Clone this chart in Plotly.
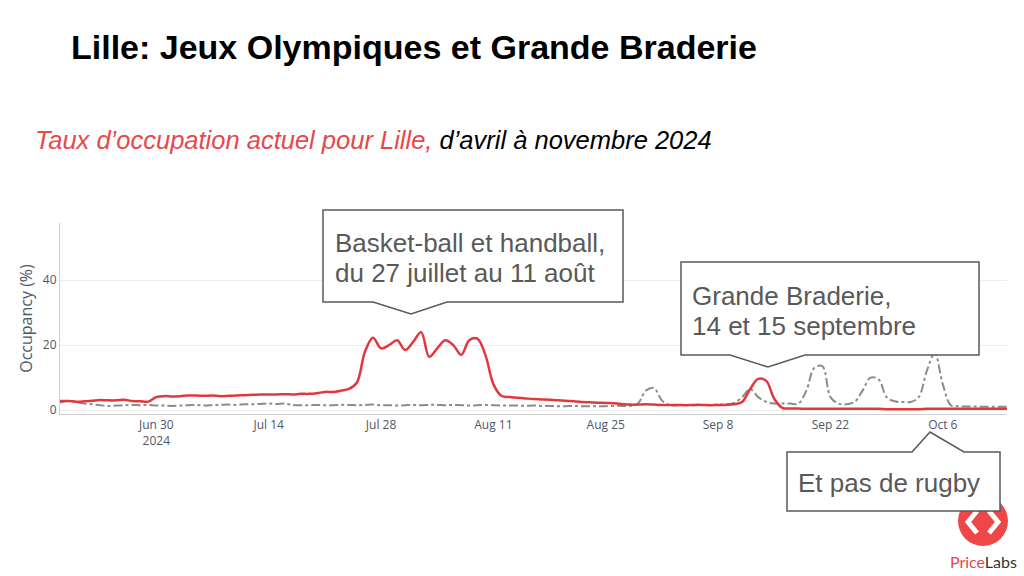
import pandas as pd
import plotly.graph_objects as go

# ---------------- data ----------------
dates = pd.date_range("2024-06-18", "2024-10-14", freq="D").strftime("%Y-%m-%d").tolist()

lille_2024 = [
    # Jun 18 - Jun 30
    2.8, 2.8, 2.6, 2.7, 2.9, 3.1, 3.0, 3.0, 3.2, 2.8, 2.7, 2.6, 4.0,
    # Jul 1 - Jul 23
    4.3, 4.2, 4.3, 4.5, 4.5, 4.4, 4.5, 4.3, 4.4, 4.5, 4.6, 4.7, 4.8, 4.8,
    4.8, 4.9, 4.8, 5.0, 5.0, 5.2, 5.6, 5.6, 6.0,
    # Jul 24 - Aug 13
    6.5, 8.5, 18.0, 22.3, 19.0, 20.0, 21.5, 18.5, 21.0, 24.0, 16.4, 19.0,
    21.5, 20.0, 17.0, 21.5, 22.0, 17.0, 8.0, 4.4, 4.0,
    # Aug 14 - Sep 10
    3.8, 3.6, 3.4, 3.3, 3.2, 3.0, 2.9, 2.7, 2.5, 2.4, 2.3, 2.2, 2.1, 1.9,
    1.7, 1.7, 1.8, 1.7, 1.6, 1.6, 1.6, 1.5, 1.6, 1.6, 1.5, 1.6, 1.6, 1.8,
    # Sep 11 - Sep 16
    2.5, 6.5, 9.6, 9.0, 3.5, 0.7,
    # Sep 17 - Oct 14
    0.5, 0.5, 0.4, 0.4, 0.4, 0.4, 0.4, 0.4, 0.4, 0.4, 0.4, 0.4, 0.3, 0.3,
    0.3, 0.3, 0.3, 0.4, 0.4, 0.4, 0.4, 0.4, 0.4, 0.4, 0.4, 0.4, 0.4, 0.4,
]

reference = [
    # Jun 18 - Jun 30
    2.3, 2.8, 2.5, 2.0, 1.8, 1.5, 1.3, 1.4, 1.5, 1.6, 1.5, 1.6, 1.4,
    # Jul 1 - Jul 23
    1.4, 1.3, 1.4, 1.5, 1.6, 1.4, 1.5, 1.6, 1.7, 1.6, 1.8, 1.8, 1.9, 2.0,
    1.9, 2.0, 1.6, 1.5, 1.5, 1.6, 1.5, 1.5, 1.6,
    # Jul 24 - Aug 13
    1.6, 1.5, 1.6, 1.7, 1.5, 1.5, 1.4, 1.5, 1.6, 1.5, 1.6, 1.6, 1.5, 1.6,
    1.5, 1.4, 1.5, 1.6, 1.5, 1.4, 1.4,
    # Aug 14 - Sep 10
    1.4, 1.3, 1.4, 1.3, 1.3, 1.2, 1.2, 1.3, 1.2, 1.2, 1.2, 1.2, 1.3, 1.3,
    1.3, 2.0, 6.0, 6.8, 3.0, 1.5, 1.5, 1.6, 1.5, 1.6, 1.6, 1.7, 1.8, 2.2,
    # Sep 11 - Sep 16
    4.0, 6.5, 4.0, 2.5, 2.0, 2.0,
    # Sep 17 - Oct 14
    2.0, 2.0, 6.0, 13.0, 13.5, 4.0, 2.0, 1.8, 2.5, 6.0, 10.0, 9.5, 4.0, 2.7,
    2.5, 2.5, 4.0, 12.0, 17.5, 8.0, 1.5, 1.2, 1.1, 1.1, 1.0, 1.0, 1.0, 1.0,
]

y_ticks = [0, 20, 40]

title_text = "Lille: Jeux Olympiques et Grande Braderie"
subtitle_red = "Taux d’occupation actuel pour Lille,"
subtitle_black = " d’avril à novembre 2024"
callout_olympics = ["Basket-ball et handball,", "du 27 juillet au 11 août"]
callout_braderie = ["Grande Braderie,", "14 et 15 septembre"]
callout_rugby = "Et pas de rugby"

# ---------------- layout helpers (pixel -> paper) ----------------
L, R, T, B = 60, 1007, 223, 414
W, H = R - L, B - T


def px(x):
    return (x - L) / W


def py(y):
    return (B - y) / H


def path(points):
    s = "M " + " L ".join(f"{px(x):.5f},{py(y):.5f}" for x, y in points)
    return s + " Z"


def open_path(points):
    return "M " + " L ".join(f"{px(x):.5f},{py(y):.5f}" for x, y in points)


RED = "#E2383D"
GREY_TXT = "#595959"
AXIS_TXT = "#4f5666"

fig = go.Figure()
fig.add_trace(go.Scatter(
    x=dates, y=reference, mode="lines",
    line=dict(color="#8c8c8c", width=2, dash="dashdot", shape="spline", smoothing=1.0),
    showlegend=False, hoverinfo="skip",
))
fig.add_trace(go.Scatter(
    x=dates, y=lille_2024, mode="lines",
    line=dict(color=RED, width=2.5, shape="spline", smoothing=1.0),
    showlegend=False,
))

fig.update_layout(
    width=1024, height=576,
    margin=dict(l=L, r=1024 - R, t=T, b=576 - B),
    paper_bgcolor="white", plot_bgcolor="white",
    font=dict(family="Open Sans", color=AXIS_TXT, size=12),
    xaxis=dict(
        range=["2024-06-18", "2024-10-14"],
        tick0="2024-06-30", dtick=14 * 86400000,
        showgrid=False, showline=True, linecolor="#cfcfcf", linewidth=1,
        zeroline=False, ticks="", tickfont=dict(size=12, color=AXIS_TXT),
    ),
    yaxis=dict(
        range=[-1.2, 57.6], tickvals=y_ticks,
        showgrid=True, gridcolor="#ececec", showline=True, linecolor="#cfcfcf",
        zeroline=False, ticks="", tickfont=dict(size=12, color=AXIS_TXT),
        title=dict(text="Occupancy (%)", font=dict(size=16, color=AXIS_TXT), standoff=6),
    ),
)

shapes = []
# logo circle (under callout box)
shapes.append(dict(type="circle", xref="paper", yref="paper",
                   x0=px(958), x1=px(1008), y0=py(546), y1=py(496),
                   fillcolor="#EF4747", line=dict(width=0), layer="above"))
shapes.append(dict(type="path", xref="paper", yref="paper",
                   path=open_path([(977, 511), (968, 522), (977, 533)]),
                   line=dict(color="white", width=5), layer="above"))
shapes.append(dict(type="path", xref="paper", yref="paper",
                   path=open_path([(989, 511), (998, 522), (989, 533)]),
                   line=dict(color="white", width=5), layer="above"))

callout_style = dict(type="path", xref="paper", yref="paper",
                     fillcolor="white", line=dict(color=GREY_TXT, width=1.5), layer="above")
shapes.append(dict(callout_style, path=path([(323, 210), (623, 210), (623, 302), (447, 302),
                                            (411, 314), (373, 302), (323, 302)])))
shapes.append(dict(callout_style, path=path([(681, 262), (979, 262), (979, 355), (805, 355),
                                            (768, 367), (730, 355), (681, 355)])))
shapes.append(dict(callout_style, path=path([(787, 452), (912, 452), (930, 432), (964, 452),
                                            (1000, 452), (1000, 511), (787, 511)])))
fig.update_layout(shapes=shapes)

ann_font = dict(family="Liberation Sans, Arial", size=26, color=GREY_TXT)
annotations = [
    dict(text=f"<b>{title_text}</b>", x=px(69), y=py(47), xanchor="left", yanchor="middle",
         font=dict(family="Liberation Sans, Arial", size=34, color="black")),
    dict(text=f"<i><span style='color:#E8474C'>{subtitle_red}</span>{subtitle_black}</i>",
         x=px(33), y=py(140), xanchor="left", yanchor="middle",
         font=dict(family="Liberation Sans, Arial", size=25.5, color="black")),
    dict(text=callout_olympics[0], x=px(333), y=py(243), xanchor="left", yanchor="middle", font=ann_font),
    dict(text=callout_olympics[1], x=px(333), y=py(273), xanchor="left", yanchor="middle", font=ann_font),
    dict(text=callout_braderie[0], x=px(690), y=py(296), xanchor="left", yanchor="middle", font=ann_font),
    dict(text=callout_braderie[1], x=px(690), y=py(326), xanchor="left", yanchor="middle", font=ann_font),
    dict(text=callout_rugby, x=px(796), y=py(483), xanchor="left", yanchor="middle", font=ann_font),
    dict(text="<span style='color:#E8474C'>Price</span><span style='color:#333333'>Labs</span>",
         x=px(983), y=py(561), xanchor="center", yanchor="middle",
         font=dict(family="Lato", size=16)),
]
for a in annotations:
    a.update(xref="paper", yref="paper", showarrow=False)
fig.update_layout(annotations=annotations)

fig.write_html(
    "out.html",
    config={"displayModeBar": False},
    post_script="document.body.style.margin='0';document.body.style.overflow='hidden';",
)
